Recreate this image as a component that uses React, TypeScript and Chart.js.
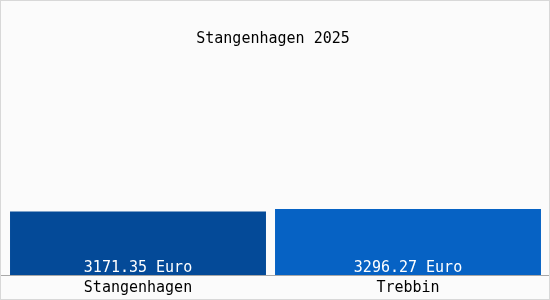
import React, { useEffect, useRef } from "react";
import { Chart, registerables } from "chart.js";

Chart.register(...registerables);

const title = "Stangenhagen 2025";
const categories = ["Stangenhagen", "Trebbin"];
const values = [3171.35, 3296.27];
const unit = "Euro";
const yMax = 10400;

const barColors = ["#044a98", "#0662c4"];
const barShares = [0.948, 0.985];
const FONT = "'DejaVu Sans Mono', monospace";

export default function App() {
  const ref = useRef<HTMLCanvasElement | null>(null);

  useEffect(() => {
    document.body.style.margin = "0";
    const canvas = ref.current;
    if (!canvas) return;

    const bgPlugin = {
      id: "bgPlugin",
      beforeDraw(chart: any) {
        const { ctx, width, height } = chart;
        ctx.save();
        ctx.fillStyle = "#fbfbfb";
        ctx.fillRect(0, 0, width, height);
        ctx.strokeStyle = "#d8d8d8";
        ctx.lineWidth = 1;
        ctx.strokeRect(0.5, 0.5, width - 1, height - 1);
        ctx.restore();
      },
      afterDatasetsDraw(chart: any) {
        const { ctx, width, chartArea } = chart;
        const xScale = chart.scales.x;
        ctx.save();
        ctx.strokeStyle = "#a8a8a8";
        ctx.lineWidth = 1;
        const y = Math.round(chartArea.bottom) + 0.5;
        ctx.beginPath();
        ctx.moveTo(1, y);
        ctx.lineTo(width - 1, y);
        ctx.stroke();

        ctx.font = `15px ${FONT}`;
        ctx.textAlign = "center";
        ctx.textBaseline = "middle";

        // category labels below the axis
        ctx.fillStyle = "#000000";
        chart.data.labels.forEach((lab: string, i: number) => {
          ctx.fillText(lab, xScale.getPixelForValue(i), chartArea.bottom + 13.5);
        });

        // value labels inside the bars
        ctx.fillStyle = "#ffffff";
        chart.data.datasets.forEach((ds: any, di: number) => {
          const meta = chart.getDatasetMeta(di);
          meta.data.forEach((el: any, i: number) => {
            const v = ds.data[i];
            if (v == null) return;
            ctx.fillText(`${v.toFixed(2)} ${unit}`, el.x, el.base - 7);
          });
        });
        ctx.restore();
      },
    };

    const chart = new Chart(canvas, {
      type: "bar",
      data: {
        labels: categories,
        datasets: categories.map((c, i) => ({
          label: c,
          data: values.map((v, j) => (j === i ? v : null)),
          backgroundColor: barColors[i],
          barPercentage: barShares[i],
          categoryPercentage: 1,
          grouped: false,
          borderWidth: 0,
        })),
      },
      options: {
        responsive: false,
        animation: false,
        layout: { padding: { left: 3, right: 7, top: 0, bottom: 25 } },
        plugins: {
          legend: { display: false },
          tooltip: { enabled: false },
          title: {
            display: true,
            text: title,
            color: "#000",
            font: { family: FONT, size: 15, weight: "normal" },
            padding: { top: 30, bottom: 19 },
          },
        },
        scales: {
          x: {
            grid: { display: false, drawTicks: false },
            border: { display: false },
            ticks: { display: false },
          },
          y: {
            display: false,
            min: 0,
            max: yMax,
          },
        },
      },
      plugins: [bgPlugin],
    });

    return () => chart.destroy();
  }, []);

  return <canvas ref={ref} width={550} height={300} />;
}
